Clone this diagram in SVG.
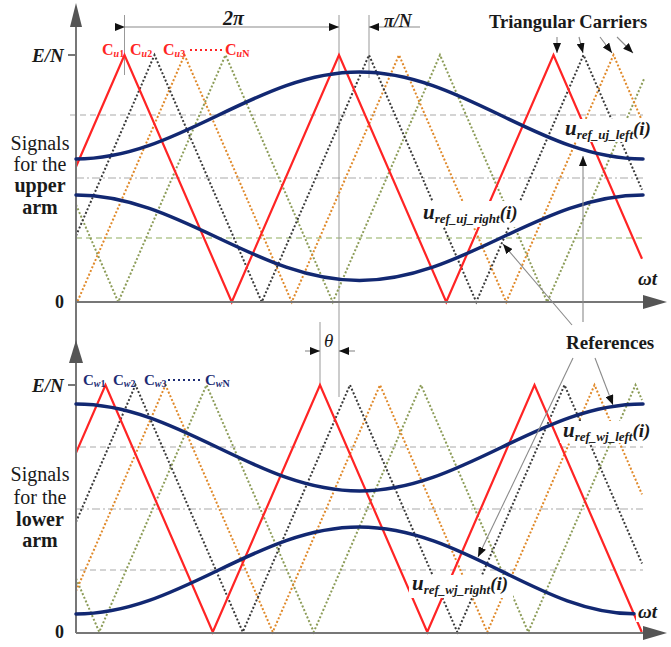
<svg xmlns="http://www.w3.org/2000/svg" width="671" height="647" viewBox="0 0 671 647">
<style>
text{font-family:"Liberation Serif","Times New Roman",serif;fill:#1a1a1a}
.b{font-weight:bold}
.bi{font-weight:bold;font-style:italic}
.axis{stroke:#777;stroke-width:2;fill:none}
.ah{fill:#555}
.grid{stroke:#aaa;stroke-width:1.2;stroke-dasharray:6 4;fill:none}
.gdd{stroke:#aaa;stroke-width:1.2;stroke-dasharray:8 3 2 3;fill:none}
.ggr{stroke:#8fae5f;stroke-width:1.2;stroke-dasharray:6 4;fill:none}
.red{stroke:#ff2424;stroke-width:2.2;fill:none;stroke-linejoin:miter}
.blk{stroke:#3a3a3a;stroke-width:2;stroke-dasharray:2 2;fill:none}
.org{stroke:#e0892a;stroke-width:2;stroke-dasharray:2 2;fill:none}
.grn{stroke:#8c9c58;stroke-width:2;stroke-dasharray:2 2;fill:none}
.refc{stroke:#122872;stroke-width:3.5;fill:none;stroke-linecap:round}
.guide{stroke:#999;stroke-width:1;fill:none}
.lead{stroke:#8a8a8a;stroke-width:1.1;fill:none}
.bg{fill:#fff}
.cu{fill:#ff2424;font-weight:bold;font-size:16px}
.cw{fill:#1c2c74;font-weight:bold;font-size:15px}
.dots{stroke-width:2;stroke-dasharray:2 3;fill:none}
</style>
<defs>
<marker id="ar" viewBox="0 0 10 8" refX="10" refY="4" markerWidth="10" markerHeight="8" markerUnits="userSpaceOnUse" orient="auto">
<path d="M0,0 L10,4 L0,8 Z" fill="#111"/>
</marker>
</defs>

<g id="grid">
<line class="grid" x1="70" y1="115" x2="643" y2="115"/>
<line class="gdd" x1="76" y1="178" x2="643" y2="178"/>
<line class="ggr" x1="76" y1="238" x2="643" y2="238"/>
<line class="grid" x1="80" y1="447" x2="643" y2="447"/>
<line class="gdd" x1="76" y1="509" x2="643" y2="509"/>
<line class="grid" x1="80" y1="570" x2="643" y2="570"/>
</g>

<g id="guides">
<line class="guide" x1="124.5" y1="15" x2="124.5" y2="75"/>
<line class="guide" x1="339" y1="15" x2="339" y2="397"/>
<line class="guide" x1="369" y1="15" x2="369" y2="78"/>
<line class="guide" x1="320" y1="322" x2="320" y2="387"/>
</g>

<g id="carriers-upper">
<polyline class="grn" points="76,204.7 118.25,302 225.5,55 332.75,302 440,55 547.25,302 644,79"/>
<polyline class="org" points="76,299.1 77.25,302 184.5,55 291.75,302 399,55 506.25,302 613.5,55 642,120.6"/>
<polyline class="blk" points="76,235.8 154.5,55 261.75,302 369,55 476.25,302 583.5,55 642,189.7"/>
<polyline class="red" points="76,166.7 124.5,55 231.75,302 339,55 446.25,302 553.5,55 642,258.8"/>
</g>

<g id="carriers-lower">
<polyline class="grn" points="76,578.5 99.25,632 206.5,385 313.75,632 421,385 528.25,632 635.5,385 642,400"/>
<polyline class="org" points="76,591.1 165.5,385 272.75,632 380,385 487.25,632 594.5,385 642,494.4"/>
<polyline class="blk" points="76,522 135.5,385 242.75,632 350,385 457.25,632 564.5,385 642,563.5"/>
<polyline class="red" points="76,452.9 105.5,385 212.75,632 320,385 427.25,632 534.5,385 641.75,632"/>
</g>

<g id="label-backgrounds">
<rect class="bg" x="562" y="119" width="94" height="23"/>
<rect class="bg" x="420" y="201" width="103" height="26"/>
<rect class="bg" x="560" y="421" width="96" height="22"/>
<rect class="bg" x="409" y="575" width="104" height="23"/>
<rect class="bg" x="636" y="270" width="26" height="20"/>
<rect class="bg" x="636" y="602" width="26" height="20"/>
</g>

<g id="axes">
<line class="axis" x1="76" y1="20" x2="76" y2="633"/>
<path class="ah" d="M76,3 L70,27 L82,27 Z"/>
<path class="ah" d="M76,340 L69,363 L83,363 Z"/>
<line class="axis" x1="76" y1="302" x2="645" y2="302"/>
<path class="ah" d="M667,302 L643,295 L643,309 Z"/>
<line class="axis" x1="76" y1="633" x2="645" y2="633"/>
<path class="ah" d="M667,633 L643,626 L643,640 Z"/>
<line class="axis" x1="68" y1="55" x2="76" y2="55" stroke-width="1.5"/>
<line class="axis" x1="68" y1="385" x2="76" y2="385" stroke-width="1.5"/>
</g>

<g id="references">
<path id="u-ref-uj-left" class="refc" d="M76,159 C179.2,159 256.3,72 359.5,72 C462.7,72 539.8,159 643,159"/>
<path id="u-ref-uj-right" class="refc" d="M76,195 C179.2,195 256.3,280.5 359.5,280.5 C462.7,280.5 539.8,195 643,195"/>
<path id="u-ref-wj-left" class="refc" d="M76,404 C179.2,404 256.3,491 359.5,491 C462.7,491 539.8,404 643,404"/>
<path id="u-ref-wj-right" class="refc" d="M76,614 C179.2,614 256.3,527 359.5,527 C462.7,527 539.8,614 634,613.8"/>
</g>

<g id="connectors">
<line class="lead" x1="125" y1="27" x2="339" y2="27" marker-start="url(#ar)" marker-end="url(#ar)"/>
<line class="lead" x1="420" y1="27" x2="369" y2="27" marker-end="url(#ar)"/>
<line class="lead" x1="305" y1="351" x2="320" y2="351" marker-end="url(#ar)"/>
<line class="lead" x1="355" y1="351" x2="339" y2="351" marker-end="url(#ar)"/>
<line class="lead" x1="557" y1="37" x2="557" y2="53" marker-end="url(#ar)"/>
<line class="lead" x1="579" y1="37" x2="583" y2="53" marker-end="url(#ar)"/>
<line class="lead" x1="600" y1="37" x2="612" y2="53" marker-end="url(#ar)"/>
<line class="lead" x1="617" y1="37" x2="633" y2="53" marker-end="url(#ar)"/>
<line class="lead" x1="583" y1="322" x2="583" y2="156" marker-end="url(#ar)"/>
<line class="lead" x1="572" y1="325" x2="503" y2="244" marker-end="url(#ar)"/>
<line class="lead" x1="573" y1="358" x2="478" y2="557" marker-end="url(#ar)"/>
<line class="lead" x1="595" y1="358" x2="613" y2="405" marker-end="url(#ar)"/>
</g>

<g id="labels">
<text class="bi" x="32" y="62" font-size="19">E/N</text>
<text class="bi" x="32" y="392" font-size="19">E/N</text>
<text class="b" x="55" y="308" font-size="18">0</text>
<text class="b" x="55" y="638" font-size="18">0</text>
<text class="bi" x="223" y="25" font-size="20">2π</text>
<text class="bi" x="384" y="27" font-size="18">π/N</text>
<text x="324" y="347" font-size="19" font-style="italic">θ</text>
<text class="bi" x="638" y="285" font-size="19">ωt</text>
<text class="bi" x="638" y="618" font-size="19">ωt</text>
<text class="b" x="489" y="28" font-size="18.5">Triangular Carriers</text>
<text class="b" x="566" y="349" font-size="19">References</text>

<g font-size="20" text-anchor="middle">
<text x="40" y="150">Signals</text>
<text x="40" y="171">for the</text>
<text class="b" x="40" y="192">upper</text>
<text class="b" x="40" y="214">arm</text>
<text x="40" y="481">Signals</text>
<text x="40" y="504">for the</text>
<text class="b" x="40" y="526">lower</text>
<text class="b" x="40" y="547">arm</text>
</g>

<text class="cu" x="102" y="55">C<tspan font-size="10" dy="1.5" font-style="italic">u</tspan><tspan font-size="10">1</tspan></text>
<text class="cu" x="130" y="55">C<tspan font-size="10" dy="1.5" font-style="italic">u</tspan><tspan font-size="10">2</tspan></text>
<text class="cu" x="163" y="55">C<tspan font-size="10" dy="1.5" font-style="italic">u</tspan><tspan font-size="10">3</tspan></text>
<line class="dots" x1="190" y1="50" x2="222" y2="50" stroke="#ff2424"/>
<text class="cu" x="225" y="55">C<tspan font-size="10" dy="1.5" font-style="italic">u</tspan><tspan font-size="10">N</tspan></text>

<text class="cw" x="83" y="385">C<tspan font-size="10" dy="1.5" font-style="italic">w</tspan><tspan font-size="10">1</tspan></text>
<text class="cw" x="113" y="385">C<tspan font-size="10" dy="1.5" font-style="italic">w</tspan><tspan font-size="10">2</tspan></text>
<text class="cw" x="144" y="385">C<tspan font-size="10" dy="1.5" font-style="italic">w</tspan><tspan font-size="10">3</tspan></text>
<line class="dots" x1="168" y1="380" x2="203" y2="380" stroke="#1c2c74"/>
<text class="cw" x="205" y="385">C<tspan font-size="10" dy="1.5" font-style="italic">w</tspan><tspan font-size="10">N</tspan></text>

<text class="bi" x="565" y="135"><tspan font-size="21">u</tspan><tspan font-size="13" dy="4">ref_uj_left</tspan><tspan font-size="19" dy="-4">(i)</tspan></text>
<text class="bi" x="423" y="219"><tspan font-size="21">u</tspan><tspan font-size="13" dy="4">ref_uj_right</tspan><tspan font-size="19" dy="-4">(i)</tspan></text>
<text class="bi" x="563" y="437"><tspan font-size="21">u</tspan><tspan font-size="13" dy="4">ref_wj_left</tspan><tspan font-size="19" dy="-4">(i)</tspan></text>
<text class="bi" x="412" y="590"><tspan font-size="21">u</tspan><tspan font-size="13" dy="4">ref_wj_right</tspan><tspan font-size="19" dy="-4">(i)</tspan></text>
</g>
</svg>
